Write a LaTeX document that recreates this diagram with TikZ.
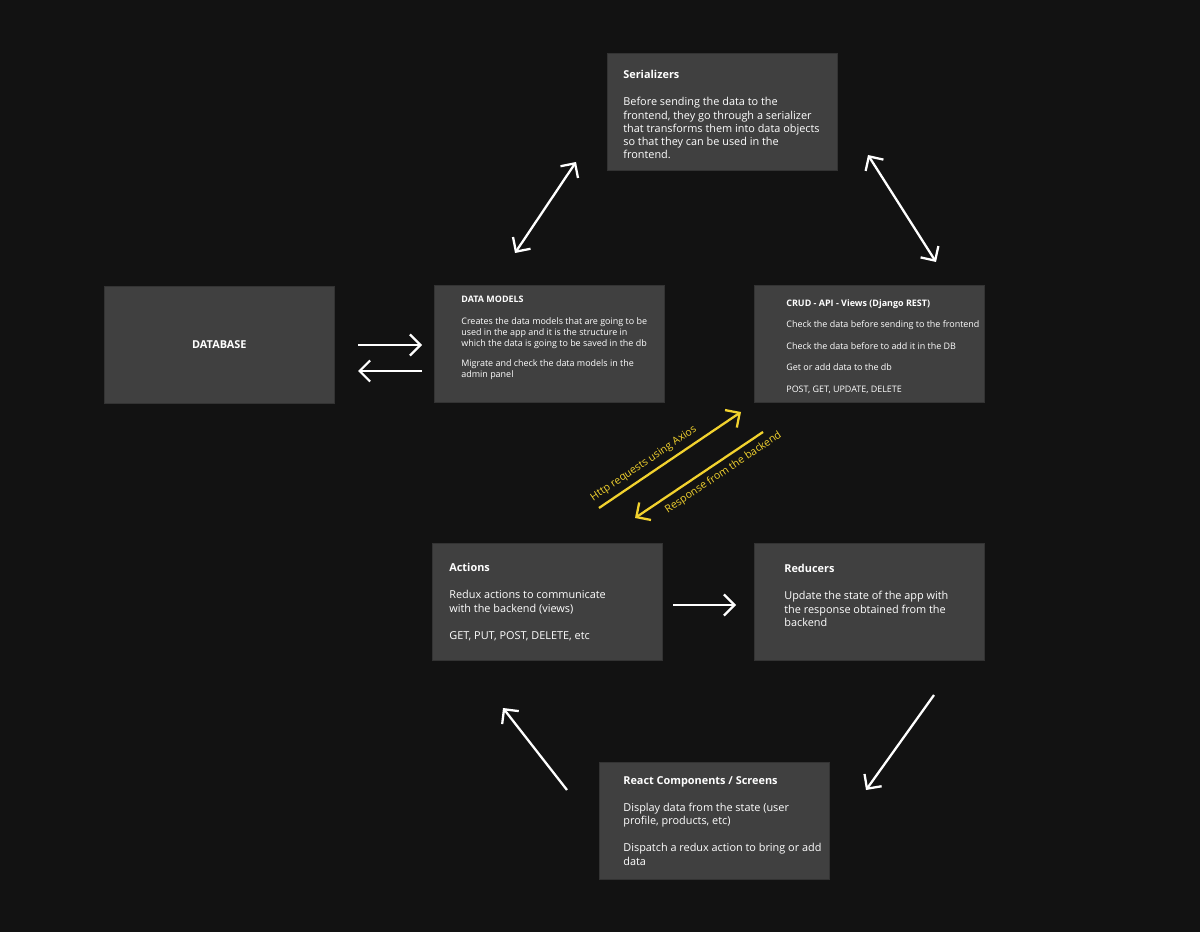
\documentclass[tikz,border=0pt]{standalone}
\usepackage{fontspec}
\setmainfont{Open Sans}
\usetikzlibrary{arrows.meta}
\definecolor{bg}{HTML}{121212}
\definecolor{boxc}{HTML}{404040}
\definecolor{yel}{HTML}{F2D22E}
\tikzset{
  card/.style={fill=boxc,draw=boxc!80!black,anchor=north west,minimum width=4.6cm,minimum height=2.34cm,inner sep=0pt},
  txt/.style={anchor=north west,text=white,align=left,inner sep=0pt,font=\fontsize{6.2}{7.5}\selectfont},
  stxt/.style={anchor=north west,text=white,align=left,inner sep=0pt,font=\fontsize{5.1}{6.3}\selectfont},
  arr/.style={white,line width=1.3pt,-{Straight Barb[length=6pt,width=12pt]}},
  darr/.style={white,line width=1.3pt,{Straight Barb[length=6pt,width=12pt]}-{Straight Barb[length=6pt,width=12pt]}},
  yarr/.style={yel,line width=1.3pt,-{Straight Barb[length=6pt,width=12pt]}},
  ylab/.style={text=yel,font=\fontsize{6}{7}\selectfont,inner sep=3pt}
}
\begin{document}
\begin{tikzpicture}[x=0.02cm,y=-0.02cm]
\fill[bg] (0,0) rectangle (1200,932);
\node[card] (ser) at (607,53) {};
\node[card] (db) at (104,286) {};
\node[card] (dm) at (434,285) {};
\node[card] (crud) at (754,285) {};
\node[card] (act) at (432,543) {};
\node[card] (red) at (754,543) {};
\node[card] (rc) at (599,762) {};

\node[txt] (serT) at (623,70) {\textbf{Serializers}\\[8pt]Before sending the data to the\\frontend, they go through a serializer\\that transforms them into data objects\\so that they can be used in the\\frontend.};
\node[text=white,font=\fontsize{6.2}{7.5}\selectfont\bfseries] (dbT) at (db.center) {DATABASE};
\node[stxt] (dmT) at (461,296) {\textbf{DATA MODELS}\\[6pt]Creates the data models that are going to be\\used in the app and it is the structure in\\which the data is going to be saved in the db\\[5pt]Migrate and check the data models in the\\admin panel};
\node[stxt] (crT) at (786,299) {\textbf{CRUD - API - Views (Django REST)}\\[6pt]Check the data before sending to the frontend\\[6pt]Check the data before to add it in the DB\\[6pt]Get or add data to the db\\[6pt]POST, GET, UPDATE, DELETE};
\node[txt] (actT) at (449,563) {\textbf{Actions}\\[8pt]Redux actions to communicate\\with the backend (views)\\[8pt]GET, PUT, POST, DELETE, etc};
\node[txt] (redT) at (784,564) {\textbf{Reducers}\\[8pt]Update the state of the app with\\the response obtained from the\\backend};
\node[txt] (rcT) at (623,776) {\textbf{React Components / Screens}\\[8pt]Display data from the state (user\\profile, products, etc)\\[8pt]Dispatch a redux action to bring or add\\data};

\coordinate (a1) at (515,253); \coordinate (a2) at (576,162);
\coordinate (b1) at (868,155); \coordinate (b2) at (936,262);
\coordinate (c1) at (358,345); \coordinate (c2) at (422,345);
\coordinate (d1) at (422,371); \coordinate (d2) at (358,371);
\coordinate (e1) at (599,508); \coordinate (e2) at (741,412);
\coordinate (f1) at (763,432); \coordinate (f2) at (635,518);
\coordinate (g1) at (673,605); \coordinate (g2) at (736,605);
\coordinate (h1) at (934,695); \coordinate (h2) at (866,790);
\coordinate (i1) at (567,790); \coordinate (i2) at (503,708);
\draw[darr] (a1) -- (a2);
\draw[darr] (b1) -- (b2);
\draw[arr] (c1) -- (c2);
\draw[arr] (d1) -- (d2);
\draw[yarr] (e1) -- node[ylab,above,sloped,pos=0.36] {Http requests using Axios} (e2);
\draw[yarr] (f1) -- node[ylab,below,sloped,pos=0.36] {Response from the backend} (f2);
\draw[arr] (g1) -- (g2);
\draw[arr] (h1) -- (h2);
\draw[arr] (i1) -- (i2);
\end{tikzpicture}
\end{document}
